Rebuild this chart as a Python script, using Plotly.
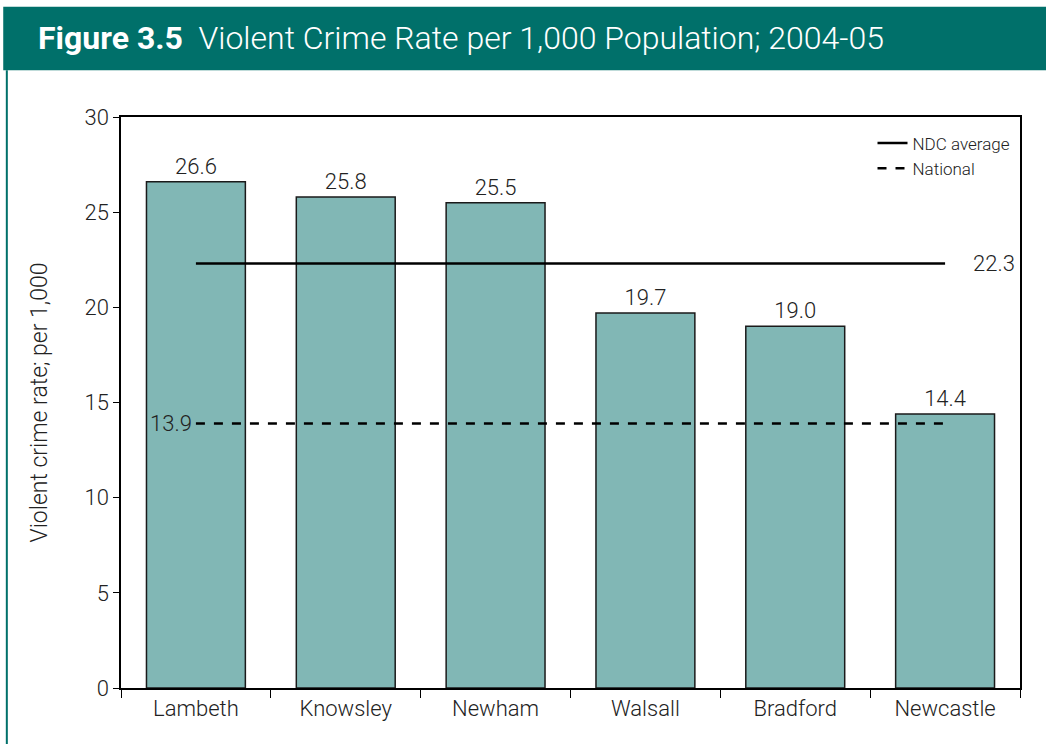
import plotly.graph_objects as go

areas = ["Lambeth", "Knowsley", "Newham", "Walsall", "Bradford", "Newcastle"]
rates = [26.6, 25.8, 25.5, 19.7, 19.0, 14.4]
ndc_average = 22.3
national = 13.9
y_ticks = [0, 5, 10, 15, 20, 25, 30]

FONT = "Roboto"
TEAL = "#00706A"
BAR = "#81B7B5"
INK = "#222222"

def f(size, color=INK, weight=300):
    return dict(family=FONT, size=size, color=color, weight=weight)

fig = go.Figure()
fig.add_trace(go.Bar(
    x=areas, y=rates, width=0.66,
    marker=dict(color=BAR, line=dict(color="#1a1a1a", width=1.5)),
    text=[f"{v:.1f}" for v in rates], textposition="outside",
    textfont=f(22), cliponaxis=False, showlegend=False, hoverinfo="skip"))

fig.add_trace(go.Scatter(
    x=[areas[0], areas[-1]], y=[ndc_average, ndc_average], mode="lines",
    line=dict(color="black", width=2.5), name="NDC average"))
fig.add_trace(go.Scatter(
    x=[areas[0], areas[-1]], y=[national, national], mode="lines",
    line=dict(color="black", width=2.5, dash="dash"), name="National"))

fig.add_annotation(x=areas[-1], y=ndc_average, text=f"{ndc_average:.1f}",
                   xshift=26, showarrow=False, xanchor="left", font=f(22))
fig.add_annotation(x=areas[0], y=national, text=f"{national:.1f}",
                   xshift=-48, showarrow=False, xanchor="left", font=f(22))

shapes = [
    dict(type="rect", xref="paper", yref="paper", x0=-0.131, x1=1.035,
         y0=1.082, y1=1.193, fillcolor=TEAL, line=dict(width=0), layer="below"),
    dict(type="line", xref="paper", yref="paper", x0=-0.127, x1=-0.127,
         y0=1.082, y1=-0.11, line=dict(color=TEAL, width=2)),
]

fig.update_layout(
    width=1046, height=744,
    margin=dict(l=121, r=26, t=117, b=56),
    paper_bgcolor="white", plot_bgcolor="white",
    font=dict(family=FONT, color=INK),
    shapes=shapes,
    bargap=0.34,
    showlegend=True,
    legend=dict(x=0.995, y=0.985, xanchor="right", yanchor="top",
                font=f(17), bgcolor="rgba(0,0,0,0)", itemwidth=30,
                tracegroupgap=2),
    xaxis=dict(showline=True, linecolor="black", linewidth=1.5, mirror=True,
               ticks="outside", tickson="boundaries", ticklen=8, tickcolor="black",
               tickfont=f(22), showgrid=False, zeroline=False),
    yaxis=dict(range=[0, 30], tickvals=y_ticks, showline=True, linecolor="black",
               linewidth=1.5, mirror=True, ticks="outside", ticklen=6, tickcolor="black",
               tickfont=f(22), showgrid=False, zeroline=False,
               title=dict(text="Violent crime rate; per 1,000", standoff=30, font=f(23))),
)

fig.add_annotation(xref="paper", yref="paper", x=-0.094, y=1.139,
                   xanchor="left", yanchor="middle", showarrow=False,
                   text="<span style='font-weight:700'>Figure 3.5</span>  Violent Crime Rate per 1,000 Population; 2004-05",
                   font=f(32, "white", 300))

fig.write_html("out.html")
